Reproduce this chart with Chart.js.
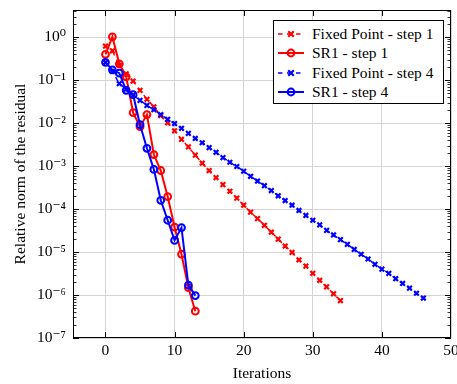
<!DOCTYPE html>
<html>
<head>
<meta charset="utf-8">
<title>Residual convergence</title>
<script src="https://cdn.jsdelivr.net/npm/chart.js@4/dist/chart.umd.min.js"></script>
<style>
  html, body { margin: 0; padding: 0; background: #fff; }
  #wrap { position: relative; width: 457px; height: 384px; }
  #plot { position: absolute; left: 0; top: 0; }
  #legend {
    position: absolute; left: 273px; top: 20px; width: 171px; height: 84px;
    box-sizing: border-box; border: 1px solid #000; background: #fff;
    font-family: "Liberation Serif", "DejaVu Serif", serif; font-size: 15.5px; color: #000;
  }
  .row { position: absolute; left: 0; height: 20px; display: flex; align-items: center; white-space: nowrap; }
  .row svg { margin-left: 4px; margin-right: 8px; }
</style>
</head>
<body>
<div id="wrap">
  <canvas id="plot" width="457" height="384"></canvas>
  <div id="legend"></div>
</div>
<script>
// Relative residual norm per iteration (index = iteration number)
const fixedPointStep1 = [
  0.62, 0.48, 0.22, 0.14, 0.095, 0.058, 0.036, 0.024, 0.015, 0.0102,
  0.0066, 0.0042, 0.0028, 0.0018, 0.00117, 7.9e-4, 5.4e-4, 3.7e-4, 2.6e-4, 1.8e-4,
  1.23e-4, 8.5e-5, 6.0e-5, 4.2e-5, 2.9e-5, 2.0e-5, 1.38e-5, 9.8e-6, 6.6e-6, 4.7e-6,
  3.2e-6, 2.2e-6, 1.55e-6, 1.07e-6, 7.4e-7
];
const sr1Step1 = [
  0.40, 1.02, 0.24, 0.12, 0.0175, 0.0083, 0.0158, 0.00186, 7.9e-4, 1.96e-4,
  3.8e-5, 8.9e-6, 1.48e-6, 4.2e-7
];
const fixedPointStep4 = [
  0.26, 0.16, 0.083, 0.062, 0.045, 0.034, 0.026, 0.0205, 0.0158, 0.0123,
  0.0098, 0.0076, 0.0058, 0.0044, 0.0035, 0.0027, 0.0021, 0.00158, 0.00123, 9.8e-4,
  7.6e-4, 5.8e-4, 4.5e-4, 3.5e-4, 2.7e-4, 2.04e-4, 1.58e-4, 1.23e-4, 9.3e-5, 7.1e-5,
  5.5e-5, 4.3e-5, 3.2e-5, 2.5e-5, 1.95e-5, 1.51e-5, 1.15e-5, 8.9e-6, 6.9e-6, 5.2e-6,
  4.0e-6, 3.2e-6, 2.4e-6, 1.86e-6, 1.45e-6, 1.10e-6, 8.5e-7
];
const sr1Step4 = [
  0.26, 0.174, 0.146, 0.058, 0.046, 0.0092, 0.0026, 8.4e-4, 1.6e-4, 5.5e-5,
  1.87e-5, 3.7e-5, 1.7e-6, 9.7e-7
];

const seriesNames = ["Fixed Point - step 1", "SR1 - step 1", "Fixed Point - step 4", "SR1 - step 4"];
const xTickValues = [0, 10, 20, 30, 40, 50];
const xTickLabels = ["0", "10", "20", "30", "40", "50"];
const yTickValues = [1e-7, 1e-6, 1e-5, 1e-4, 1e-3, 1e-2, 1e-1, 1e0];
const yTickLabels = ["10\u207B\u2077", "10\u207B\u2076", "10\u207B\u2075", "10\u207B\u2074",
                     "10\u207B\u00B3", "10\u207B\u00B2", "10\u207B\u00B9", "10\u2070"];

const RED = "#ff0000";
const BLUE = "#0000ff";
const SERIF = '"Liberation Serif", "DejaVu Serif", serif';

const toPoints = values => values.map((v, i) => ({ x: i, y: v }));

function fixedPointSet(label, values, color, order) {
  return {
    label, data: toPoints(values), order,
    borderColor: color, backgroundColor: color,
    borderWidth: 1.5, borderDash: [4.5, 4.5],
    pointStyle: "crossRot", pointRadius: 3.3, pointBorderWidth: 2.2,
    pointBorderColor: color, pointHoverRadius: 3.3,
    tension: 0, fill: false
  };
}
function sr1Set(label, values, color, order) {
  return {
    label, data: toPoints(values), order,
    borderColor: color, backgroundColor: color,
    borderWidth: 2,
    pointStyle: "circle", pointRadius: 3.4, pointBorderWidth: 2,
    pointBackgroundColor: "rgba(255,255,255,0)", pointBorderColor: color, pointHoverRadius: 3.4,
    tension: 0, fill: false
  };
}

// Frame around the plot area with inward ticks on all four sides
const framePlugin = {
  id: "frame",
  afterDatasetsDraw(chart) {
    const { ctx, chartArea: a, scales: { x, y } } = chart;
    ctx.save();
    ctx.strokeStyle = "#000";
    ctx.lineWidth = 1;
    ctx.beginPath();
    xTickValues.forEach(v => {
      const px = Math.round(x.getPixelForValue(v)) + 0.5;
      if (px < a.left || px > a.right) return;
      ctx.moveTo(px, a.bottom); ctx.lineTo(px, a.bottom - 6);
      ctx.moveTo(px, a.top); ctx.lineTo(px, a.top + 6);
    });
    yTickValues.forEach(v => {
      const py = Math.round(y.getPixelForValue(v)) + 0.5;
      ctx.moveTo(a.left, py); ctx.lineTo(a.left + 6, py);
      ctx.moveTo(a.right, py); ctx.lineTo(a.right - 6, py);
    });
    ctx.stroke();
    // minor ticks 2..9 in each decade
    ctx.lineWidth = 0.8;
    ctx.beginPath();
    for (let e = -7; e <= 0; e++) {
      for (let m = 2; m <= 9; m++) {
        const v = m * Math.pow(10, e);
        if (v > y.max) continue;
        const py = Math.round(y.getPixelForValue(v)) + 0.5;
        ctx.moveTo(a.left, py); ctx.lineTo(a.left + 3.5, py);
        ctx.moveTo(a.right, py); ctx.lineTo(a.right - 3.5, py);
      }
    }
    ctx.stroke();
    ctx.lineWidth = 1;
    ctx.strokeRect(Math.round(a.left) + 0.5, Math.round(a.top) + 0.5,
                   Math.round(a.right - a.left) - 1, Math.round(a.bottom - a.top) - 1);
    ctx.restore();
  }
};

new Chart(document.getElementById("plot"), {
  type: "line",
  data: {
    datasets: [
      fixedPointSet(seriesNames[0], fixedPointStep1, RED, 4),
      sr1Set(seriesNames[1], sr1Step1, RED, 3),
      fixedPointSet(seriesNames[2], fixedPointStep4, BLUE, 2),
      sr1Set(seriesNames[3], sr1Step4, BLUE, 1)
    ]
  },
  options: {
    responsive: false,
    animation: false,
    events: [],
    layout: { autoPadding: false, padding: { top: 10, right: 6, left: 0, bottom: 0 } },
    plugins: { legend: { display: false }, tooltip: { enabled: false } },
    scales: {
      x: {
        type: "linear", min: -4.7, max: 50,
        afterBuildTicks: s => { s.ticks = xTickValues.map(v => ({ value: v })); },
        afterFit: s => { s.height = 46; s.paddingLeft = 0; s.paddingRight = 0; },
        ticks: {
          callback: (v) => xTickLabels[xTickValues.indexOf(v)] ?? "",
          color: "#000", padding: 4, maxRotation: 0, autoSkip: false,
          font: { family: SERIF, size: 15.5 }
        },
        grid: { color: "#d4d4d4", lineWidth: 1, drawTicks: false },
        border: { display: false },
        title: {
          display: true, text: "Iterations", color: "#000",
          font: { family: SERIF, size: 15.5 }, padding: { top: 0, bottom: 1 }
        }
      },
      y: {
        type: "logarithmic", min: 1e-7, max: 4.3,
        afterBuildTicks: s => { s.ticks = yTickValues.map(v => ({ value: v, major: true })); },
        afterFit: s => { s.width = 73; s.paddingTop = 0; s.paddingBottom = 0; },
        ticks: {
          callback: (v) => yTickLabels[yTickValues.indexOf(v)] ?? "",
          color: "#000", padding: 7, autoSkip: false,
          font: { family: SERIF, size: 15.5 }
        },
        grid: { color: "#d4d4d4", lineWidth: 1, drawTicks: false },
        border: { display: false },
        title: {
          display: true, text: "Relative norm of the residual", color: "#000",
          font: { family: SERIF, size: 15.5 }, padding: { top: 12, bottom: 0 }
        }
      }
    }
  },
  plugins: [framePlugin]
});

// Legend box drawn inside the plot's upper-right corner
const legendEntries = [
  { name: seriesNames[0], color: RED, dashed: true, mark: "x" },
  { name: seriesNames[1], color: RED, dashed: false, mark: "o" },
  { name: seriesNames[2], color: BLUE, dashed: true, mark: "x" },
  { name: seriesNames[3], color: BLUE, dashed: false, mark: "o" }
];
const legendBox = document.getElementById("legend");
legendEntries.forEach((e, i) => {
  const row = document.createElement("div");
  row.className = "row";
  row.style.top = (2.5 + i * 19.5) + "px";
  const dash = e.dashed ? ' stroke-dasharray="4.5 4.5"' : "";
  const lw = e.dashed ? 1.5 : 2;
  const mark = e.mark === "x"
    ? `<path d="M10.2 5.2 L15.8 10.8 M15.8 5.2 L10.2 10.8" stroke="${e.color}" stroke-width="2.2"/>`
    : `<circle cx="13" cy="8" r="3.4" fill="none" stroke="${e.color}" stroke-width="2"/>`;
  row.innerHTML =
    `<svg width="26" height="16" viewBox="0 0 26 16"><line x1="0" y1="8" x2="26" y2="8" stroke="${e.color}" stroke-width="${lw}"${dash}/>${mark}</svg><span>${e.name}</span>`;
  legendBox.appendChild(row);
});
</script>
</body>
</html>
